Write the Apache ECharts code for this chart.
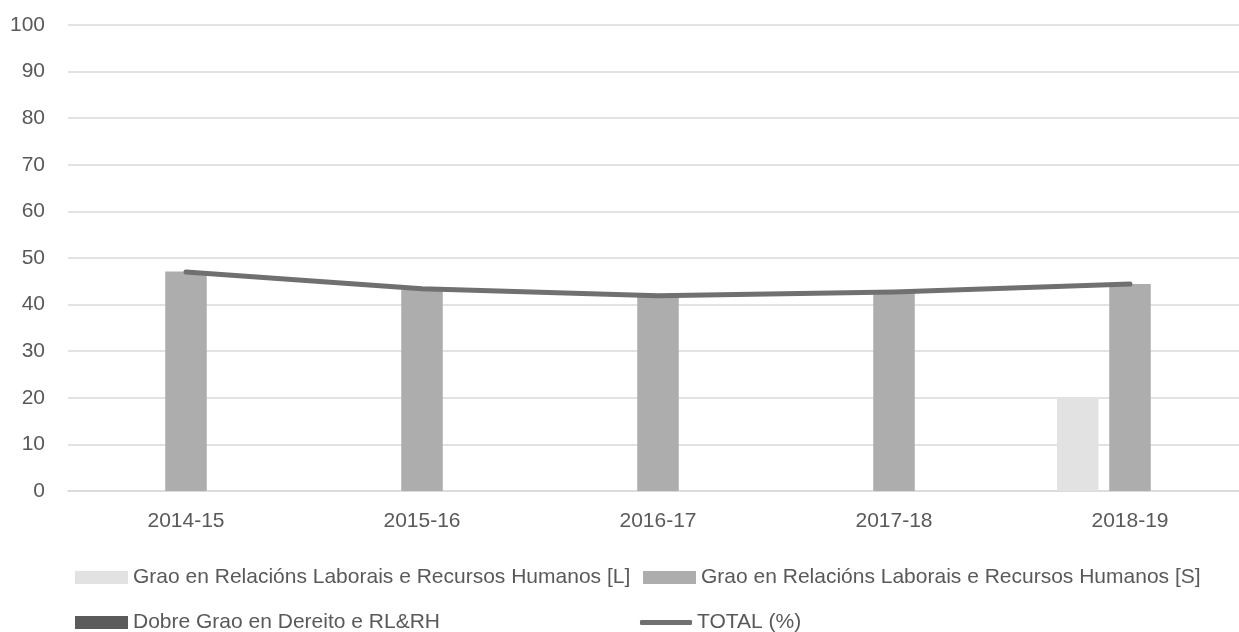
<!DOCTYPE html>
<html><head><meta charset="utf-8">
<script src="https://cdn.jsdelivr.net/npm/echarts@6/dist/echarts.min.js"></script>
<style>html,body{margin:0;padding:0;background:#fff}#c{width:1239px;height:632px}</style>
</head><body><div id="c"></div>
<script>
const categories = ['2014-15','2015-16','2016-17','2017-18','2018-19'];
const yTicks = [0,10,20,30,40,50,60,70,80,90,100];
const nameL = 'Grao en Relacións Laborais e Recursos Humanos [L]';
const nameS = 'Grao en Relacións Laborais e Recursos Humanos [S]';
const nameD = 'Dobre Grao en Dereito e RL&RH';
const nameT = 'TOTAL (%)';
const valuesL = [0, 0, 0, 0, 20];
const valuesS = [47.1, 43.2, 41.9, 42.6, 44.4];
const valuesD = [0, 0, 0, 0, 0];
const valuesT = [47.0, 43.4, 41.9, 42.7, 44.4];

const font = 'Liberation Sans, Arial, sans-serif';
const txt = {color:'#595959', fontSize:21, fontFamily:font};
const chart = echarts.init(document.getElementById('c'));
function lg(name, left, top, w, h, icon){
  return {data:[{name:name, icon:icon}], left:left, top:top, itemWidth:w, itemHeight:h,
    textStyle:txt, selectedMode:false, padding:0, itemGap:0};
}
chart.setOption({
  animation:false,
  backgroundColor:'#fff',
  grid:{left:68, width:1180, top:25, bottom:141, containLabel:false, outerBoundsMode:'none'},
  legend:[
    lg(nameL, 75, 567, 53, 13, 'rect'),
    lg(nameS, 643, 567, 53, 13, 'rect'),
    lg(nameD, 75, 612, 53, 13, 'rect'),
    lg(nameT, 640, 612, 52, 5, 'roundRect')
  ],
  xAxis:{type:'category', data:categories,
    axisLine:{lineStyle:{color:'#D9D9D9', width:1.5}}, axisTick:{show:false},
    axisLabel:Object.assign({margin:20}, txt)},
  yAxis:{type:'value', min:yTicks[0], max:yTicks[yTicks.length-1], interval:10,
    axisLine:{show:false}, axisTick:{show:false},
    splitLine:{lineStyle:{color:'#D9D9D9', width:1.5}},
    axisLabel:Object.assign({margin:23}, txt)},
  series:[
    {name:nameL, type:'bar', data:valuesL, barWidth:41.5, barGap:'26%', itemStyle:{color:'#E2E2E2'}},
    {name:nameS, type:'bar', data:valuesS, barWidth:41.5, barGap:'26%', itemStyle:{color:'#ADADAD'}},
    {name:nameD, type:'bar', data:valuesD, barWidth:41.5, barGap:'26%', itemStyle:{color:'#5B5B5B'}},
    {name:nameT, type:'line', data:valuesT, symbol:'none', color:'#707070', z:5,
      lineStyle:{color:'#707070', width:5, cap:'round', join:'round'}}
  ]
});
</script></body></html>
